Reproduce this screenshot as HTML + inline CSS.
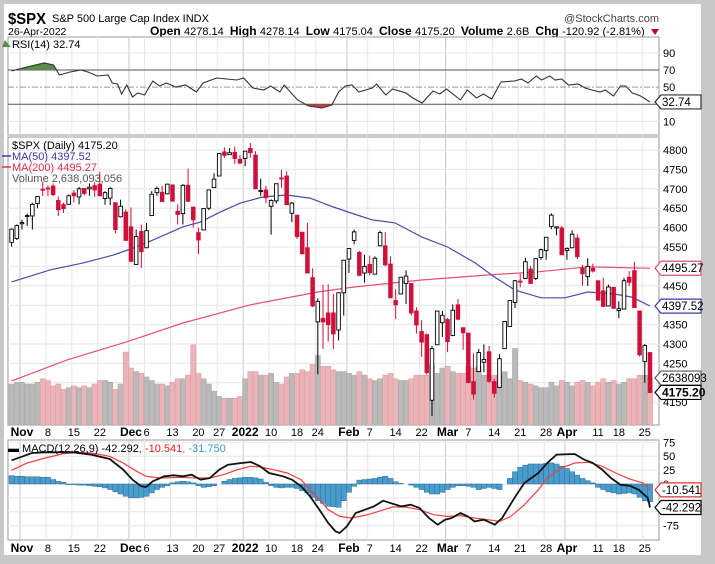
<!DOCTYPE html>
<html><head><meta charset="utf-8">
<style>
html,body{margin:0;padding:0;background:#c8c8c8;}
body{width:715px;height:564px;position:relative;overflow:hidden;font-family:"Liberation Sans",sans-serif;}
#card{position:absolute;left:4px;top:4px;width:697px;height:551px;background:#fff;}
svg{position:absolute;left:0;top:0;}
text{font-family:"Liberation Sans",sans-serif;}
</style></head>
<body>
<div id="card"></div>
<svg id="chart" width="715" height="564" viewBox="0 0 715 564"></svg>
<script>
// ---- data ----
const closes=[4596,4605,
4613,4631,4660,4680,4697,4701,4685,4646,4649,4682,4682,4700,4688,4704,4697,4682,4690,4701,4595,4655,4567,
4513,4577,4538,4592,4686,4701,4667,4712,4668,4634,4709,4668,4620,4568,4649,4697,4725,4791,4786,4793,4778,4766,
4797,4793,4700,4696,4677,4670,4713,4726,4659,4663,4577,4533,4483,4398,4410,4357,4350,4326,4432,4516,
4546,4589,4477,4500,4484,4521,4587,4504,4419,4401,4472,4475,4380,4349,4305,4226,4288,4385,4374,
4306,4387,4364,4329,4201,4171,4278,4260,4204,4173,4262,4358,4412,4463,4461,4512,4456,4520,4543,4575,4632,4602,4530,
4546,4583,4525,4481,4500,4488,4413,4397,4447,4392,4391,4463,4459,4394,4272,4296,4175];
const opens=[4562,4572,
4610,4630,4630,4662,4699,4702,4707,4670,4659,4660,4689,4679,4701,4700,4708,4712,4675,4676,4664,4628,4640,
4602,4505,4590,4548,4631,4690,4691,4687,4710,4642,4636,4709,4653,4587,4594,4650,4703,4733,4795,4788,4794,4776,
4778,4804,4787,4693,4697,4655,4669,4728,4733,4637,4632,4588,4548,4471,4357,4366,4380,4380,4336,4432,
4519,4567,4536,4483,4505,4480,4553,4553,4506,4412,4429,4456,4456,4385,4332,4324,4155,4298,4355,
4363,4322,4401,4342,4328,4203,4229,4253,4280,4203,4188,4288,4345,4407,4462,4469,4493,4469,4523,4541,4603,4599,4599,
4541,4548,4573,4495,4474,4495,4463,4437,4398,4446,4386,4390,4472,4489,4385,4255,4278];
const highs=[4598,4608,
4620,4636,4664,4681,4718,4709,4714,4680,4664,4685,4697,4705,4701,4714,4717,4744,4694,4704,4664,4672,4647,
4652,4595,4608,4612,4694,4706,4708,4713,4710,4660,4712,4752,4653,4600,4650,4697,4740,4791,4807,4805,4809,4787,
4797,4818,4797,4726,4708,4673,4714,4749,4745,4666,4632,4589,4612,4495,4418,4453,4454,4429,4433,4517,
4547,4595,4540,4530,4528,4526,4592,4588,4526,4441,4473,4490,4457,4395,4362,4327,4295,4385,4385,
4367,4402,4416,4342,4328,4276,4287,4299,4295,4210,4274,4358,4413,4465,4481,4522,4501,4521,4546,4575,4637,4603,4604,
4549,4593,4583,4504,4521,4507,4463,4471,4453,4447,4410,4471,4488,4512,4385,4300,4278];
const lows=[4551,4568,
4595,4604,4595,4650,4681,4681,4681,4630,4638,4660,4665,4660,4683,4682,4679,4681,4659,4658,4585,4626,4567,
4511,4504,4496,4548,4631,4682,4666,4688,4667,4608,4608,4666,4600,4532,4594,4645,4703,4733,4780,4788,4765,4765,
4758,4780,4700,4682,4663,4582,4662,4703,4659,4614,4571,4530,4482,4395,4222,4287,4306,4287,4309,4373,
4483,4557,4475,4458,4477,4480,4553,4500,4418,4364,4429,4403,4373,4327,4267,4221,4114,4298,4318,
4279,4320,4361,4285,4199,4157,4229,4227,4200,4162,4188,4287,4345,4393,4446,4468,4455,4465,4517,4517,4596,4580,4530,
4517,4547,4519,4450,4450,4484,4412,4395,4397,4391,4367,4390,4449,4394,4268,4200,4175];
const volumes=[2.3,2.4,
2.4,2.3,2.3,2.4,2.6,2.5,2.2,2.3,2.0,2.1,2.2,2.1,2.2,2.1,2.3,2.5,2.5,2.4,2.0,2.3,4.1,
3.2,3.0,2.9,2.7,2.5,2.3,2.3,2.2,2.4,2.6,2.6,2.8,4.5,2.9,2.6,2.3,1.9,1.6,1.5,1.5,1.5,1.6,
2.6,3.0,3.0,2.8,2.8,2.9,2.4,2.3,2.7,2.9,2.9,3.1,3.0,3.4,3.9,3.3,3.3,3.1,3.0,3.0,
2.9,2.8,3.0,2.8,2.6,2.5,2.6,2.8,2.9,2.6,2.5,2.5,2.6,2.8,2.8,2.8,3.4,2.9,3.2,
3.3,3.0,2.9,2.9,3.3,3.2,3.3,2.8,2.7,2.8,2.8,3.0,2.6,4.3,2.5,2.4,2.3,2.2,2.1,2.1,2.4,2.2,2.5,
2.4,2.2,2.4,2.5,2.4,2.2,2.4,2.6,2.4,2.5,2.3,2.4,2.6,2.6,2.8,2.8,2.64];
const ma50Idx=[0,7.4,13.8,19.6,24.7,28.6,33,36.3,40.2,44,48.5,53,57.5,62,66,69.4,73.9,79,84,89.3,93,97,102,106.6,111,116,119.5,123];
const ma50Val=[4460,4491,4509,4529,4553,4576,4602,4614,4640,4663,4679,4684,4676,4653,4635,4620,4612,4576,4550,4509,4473,4439,4419,4419,4434,4429,4421,4398];
const ma200Idx=[0,10.7,22,33,46,59,66,79,92,101.5,111,123];
const ma200Val=[4205,4259,4305,4354,4401,4434,4447,4465,4478,4486,4499,4495];
const rsiIdx=[0,2.9,6.3,8.1,9.2,11.3,13.4,14.7,16.5,18.6,19.4,20.4,21.2,22.2,23.3,24.3,25.6,27.2,28.5,29.8,31.6,33.5,35.6,36.9,39.5,43.4,44.7,46.5,48.6,49.9,51.7,52.5,55.1,57.2,59.8,61.7,63,64.3,65.6,66.9,69.5,70.3,72.1,73.4,76,77.3,79.1,81.2,82.5,83.8,86.5,87.8,89.6,90.9,92.5,94.3,96.9,98.2,99.5,101.1,102.1,103.7,104.7,106,107.3,109.2,110.5,111.8,113.4,114.4,116,117.3,118.3,119.6,121.2,123];
const rsiVal=[68.8,73.5,78.2,75.8,64.2,67.7,70,67.7,63,64.2,54.8,53.7,42,52.5,38.5,43.2,40.8,57.2,51.3,54.8,50.2,52.5,44.3,54.8,60.7,58.3,60.7,49,46.7,51.3,44.3,52.5,35,28,25.7,29.2,44.3,51.3,52.5,44.3,49,53.7,40.8,47.8,43.2,37.3,31.5,45.5,42,47.8,35,46.7,37.3,42,36.2,56,57.2,59.5,54.8,63,58.3,63,58.3,59.5,52.5,53.7,49,46.7,44.3,46.7,39.7,51.3,51.3,43.2,39.7,32.7];
const macdIdx=[0,2.2,3.9,6.5,11.8,15.3,18.9,21.5,23.3,25,25.9,27.2,29.4,31.2,33,34.7,36.4,38.2,40,41.7,44.3,46.1,47.9,49.6,52.3,54,55.8,57.5,59.3,61,62.4,63.2,64.6,66.3,68.1,69.8,71.6,73.4,75.1,76.9,78.6,80.4,82.1,83.5,84.8,86.5,87.9,89.2,91,93.1,94.5,97.1,98.8,101.5,103.2,105,108.5,110.3,112,113.8,115.5,117.3,119.1,120.8,122.6,123];
const macdVal=[42.6,49.8,55.8,57,57,52.8,45,25.8,7.8,-4.2,-5.4,4.8,13.8,15.6,13.8,16.8,7.8,10.8,25.8,34.8,37.8,39.6,31.8,19.8,13.8,7.8,-4.2,-22.2,-46.2,-70.2,-85.2,-88.2,-76.2,-52.2,-46.2,-40.2,-30,-35.4,-40.2,-37.2,-43.2,-61.2,-73.2,-64.2,-61.2,-52.2,-58.2,-67.2,-64.2,-73.2,-61.2,-22.2,1.8,19.8,37.8,52.8,54,43.8,37.8,25.8,10.8,-1.2,-3,-10.2,-25.2,-42.3];
const sigIdx=[0,3,6.5,10.1,12.7,15.3,18.9,21.5,24.1,25.9,28.5,33,35.6,38.2,40.8,43.5,46.1,47.9,50.5,53.1,55.8,57.5,59.3,61,63.2,65.4,68.1,70.7,73.4,76,78.6,81.3,83.9,86.5,89.2,91.8,94,96.2,98.8,101.5,103.2,105.9,108.5,111.2,113.8,116.4,119.1,121.7,123];
const sigVal=[24.6,37.8,46.8,54.6,57,55.8,49.8,37.8,22.8,13.8,10.8,12,10.8,10.8,16.8,25.8,31.8,30.6,25.8,19.8,7.8,-10.2,-28.2,-46.2,-58.2,-61.2,-56.4,-49.2,-41.4,-41.4,-46.2,-55.2,-58.2,-57,-61.2,-64.2,-67.2,-58.2,-37.2,-10.2,10.8,28.8,37.8,39,31.8,19.8,9,1.8,-10.5];
const histVal=[15,14,14,13,13,13,12,12,8,5,3,-1,-1,-2,-2,-3,-4,-5,-7,-10,-14,-18,-22,-25,-25,-24,-22,-16,-10,-6,-3,2,4,5,4,2,-3,-6,-5,-3,0,5,8,10,11,12,12,11,9,3,-3,-6,-7,-6,-6,-8,-12,-16,-24,-30,-35,-40,-41,-42,-30,-15,-4,7,8,9,10,12,14,10,4,1,0,-2,-6,-10,-15,-18,-18,-15,-10,-6,-3,-3,-4,-6,-10,-8,-6,-8,-10,0,10,22,30,34,36,36,36,37,38,36,32,28,22,16,10,6,2,-6,-10,-14,-16,-18,-17,-16,-18,-24,-30,-32];
const priceTicks=[4800,4750,4700,4650,4600,4550,4500,4450,4400,4350,4300,4250,4200,4150];
const rsiTicks=[90,70,50,30,10];
const macdTicks=[75,50,25,0,-25,-50,-75];
const xTickIdx=[2,7,12,17,23,26,31,36,40,45,50,55,59,65,69,74,79,84,88,93,98,103,107,113,117,122];
const xTickLbl=["Nov","8","15","22","Dec","6","13","20","27","2022","10","18","24","Feb","7","14","22","Mar","7","14","21","28","Apr","11","18","25"];
const monthTick=[true,false,false,false,true,false,false,false,false,true,false,false,false,true,false,false,false,true,false,false,false,false,true,false,false,false];

// ---- geometry ----
const L=8,R=659;
const X=i=>11.6+i*5.19;
const PY=p=>150+(4800-p)*0.388;
const RY=v=>70+(70-v)*0.857;
const MY=v=>484-v*0.556;
const VY=v=>425-v*17.8;
const NS="http://www.w3.org/2000/svg";
const svg=document.getElementById('chart');
function el(tag,attrs,parent){const e=document.createElementNS(NS,tag);for(const k in attrs)e.setAttribute(k,attrs[k]);(parent||svg).appendChild(e);return e;}
function txt(x,y,s,attrs,parent){const t=el('text',Object.assign({x:x,y:y,'font-size':11,fill:'#000'},attrs||{}),parent);t.textContent=s;return t;}

const defs=el('defs',{});
const c1=el('clipPath',{id:'clipMain'},defs);el('rect',{x:L,y:137,width:R-L,height:288},c1);
const c2=el('clipPath',{id:'clipAbove70'},defs);el('rect',{x:L,y:37,width:R-L,height:RY(70)-37},c2);
const c3=el('clipPath',{id:'clipBelow30'},defs);el('rect',{x:L,y:RY(30),width:R-L,height:135-RY(30)},c3);

// header
let t=txt(8,24,'$SPX',{'font-size':16,'font-weight':'bold',textLength:38,lengthAdjust:'spacingAndGlyphs'});


t=txt(52,22,'S&P 500 Large Cap Index  INDX',{'font-size':11});


t=txt(659,22,'@StockCharts.com',{'font-size':11,'text-anchor':'end',fill:'#444'});


t=txt(8,35,'26-Apr-2022',{'font-size':10.5});


const q=el('text',{x:150,y:35,'font-size':11});


[['Open ',1],['4278.14  ',0],['High ',1],['4278.14  ',0],['Low ',1],['4175.04  ',0],['Close ',1],['4175.20  ',0],['Volume ',1],['2.6B  ',0],['Chg ',1],['-120.92 (-2.81%)',0]].forEach(p=>{const s=el('tspan',{'font-weight':p[1]?'bold':'normal','font-size':p[1]?12:11},q);s.textContent=p[0];});
q.setAttribute('style','white-space:pre');
const tri=el('path',{d:'M651 29 L659 29 L655 35 Z',fill:'#c0002b'});



function panel(y0,h,name){const r=el('rect',{x:L,y:y0,width:R-L,height:h,fill:'#fff',stroke:'#9a9a9a','stroke-width':1});}
panel(37,98,'rsi-panel');panel(137,288,'price-panel');panel(440,100,'macd-panel');
function vgrid(y0,y1){xTickIdx.forEach((ix,k)=>{el('line',{x1:X(ix)-2,x2:X(ix)-2,y1:y0,y2:y1,stroke:monthTick[k]?'#c8c8c8':'#e6e6e6','stroke-width':1});});}
vgrid(37,135);vgrid(137,425);vgrid(440,540);
priceTicks.forEach(p=>{el('line',{x1:L,x2:R,y1:PY(p),y2:PY(p),stroke:'#e6e6e6'});});
rsiTicks.forEach(v=>{if(v!==70&&v!==30&&v!==50)el('line',{x1:L,x2:R,y1:RY(v),y2:RY(v),stroke:'#e6e6e6'});});
macdTicks.forEach(v=>{el('line',{x1:L,x2:R,y1:MY(v),y2:MY(v),stroke:'#e6e6e6'});});

// RSI
el('line',{x1:L,x2:R,y1:RY(70),y2:RY(70),stroke:'#555','stroke-width':1});
el('line',{x1:L,x2:R,y1:RY(30),y2:RY(30),stroke:'#555','stroke-width':1});
el('line',{x1:L,x2:R,y1:RY(50),y2:RY(50),stroke:'#999','stroke-width':1,'stroke-dasharray':'6,2,2,2'});
const rsiPts=rsiIdx.map((ix,k)=>X(ix).toFixed(1)+','+RY(rsiVal[k]).toFixed(1));
const a70=el('polygon',{points:X(rsiIdx[0])+','+RY(70)+' '+rsiPts.join(' ')+' '+X(rsiIdx[rsiIdx.length-1])+','+RY(70),fill:'#5a8a4a','clip-path':'url(#clipAbove70)'});


const b30=el('polygon',{points:X(rsiIdx[0])+','+RY(30)+' '+rsiPts.join(' ')+' '+X(rsiIdx[rsiIdx.length-1])+','+RY(30),fill:'#c04040','clip-path':'url(#clipBelow30)'});


const rl=el('polyline',{points:rsiPts.join(' '),fill:'none',stroke:'#333','stroke-width':1.1});


rsiTicks.forEach(v=>{if(v!==30){const tt=txt(663,RY(v)+4,String(v),{'font-size':11});}});
t=txt(12,48,'RSI(14) 32.74',{'font-size':11});


el('path',{d:'M2 47 L5 40 L8 44 L11 47 Z',fill:'#5a8a4a'});

// volume
const mg=el('g',{'clip-path':'url(#clipMain)'});
volumes.forEach((v,i)=>{const down=closes[i]<opens[i];const b=el('rect',{x:X(i)-2.6,y:VY(v),width:5.2,height:425-VY(v),fill:down?'#eab4b8':'#b9b9b9',stroke:down?'#d99':'#a5a5a5','stroke-width':0.5},mg);

});
function line(idx,val,yf,stroke,w,name,parent){const p=el('polyline',{points:idx.map((ix,k)=>X(ix).toFixed(1)+','+yf(val[k]).toFixed(1)).join(' '),fill:'none',stroke:stroke,'stroke-width':w},parent);return p;}
line(ma200Idx,ma200Val,PY,'#e8506a',1.2,'ma200-line',mg);
line(ma50Idx,ma50Val,PY,'#4a4ab0',1.2,'ma50-line',mg);
closes.forEach((c,i)=>{const o=opens[i];const down=c<o;const x=X(i);
const w=el('line',{x1:x,x2:x,y1:PY(highs[i]),y2:PY(lows[i]),stroke:down?'#d0103a':'#000','stroke-width':1},mg);


const top=PY(Math.max(o,c)),bot=PY(Math.min(o,c));
const b=el('rect',{x:x-1.8,y:top,width:3.6,height:Math.max(1,bot-top),fill:down?'#d0103a':'#fff',stroke:down?'#d0103a':'#000','stroke-width':0.9},mg);

});
priceTicks.forEach(p=>{if(p!==4200&&p!==4400&&p!==4500){const tt=txt(663,PY(p)+4,String(p),{'font-size':11});}});
t=txt(12,149,'$SPX (Daily) 4175.20',{'font-size':11});


t=txt(12,160,'MA(50) 4397.52',{'font-size':11,fill:'#3a3aa0'});


el('line',{x1:2,x2:11,y1:156,y2:156,stroke:'#3a3aa0','stroke-width':1.5});
t=txt(12,171,'MA(200) 4495.27',{'font-size':11,fill:'#e0304a'});


el('line',{x1:2,x2:11,y1:167,y2:167,stroke:'#e0304a','stroke-width':1.5});
t=txt(12,182,'Volume 2,638,093,056',{'font-size':11,fill:'#555'});


function tag(y,label,stroke,bold,name){const g=el('g',{});
el('path',{d:`M655 ${y} L661 ${y-7} L701 ${y-7} L701 ${y+7} L661 ${y+7} Z`,fill:'#fff',stroke:stroke,'stroke-width':1.2},g);
txt(662,y+4,label,{'font-size':bold?12:11.5,'font-weight':bold?'bold':'normal'},g);}
tag(PY(4495.27),'4495.27','#e05070',false,'ma200-tag');
tag(PY(4397.52),'4397.52','#3a3aa0',false,'ma50-tag');
tag(VY(2.638),'2638093','#555',false,'volume-tag');
tag(PY(4175.2),'4175.20','#000',true,'close-price-tag');
tag(RY(32.74),'32.74','#333',false,'rsi-tag');

function xlabels(y,name){xTickIdx.forEach((ix,k)=>{const tt=txt(X(ix),y,xTickLbl[k],{'font-size':monthTick[k]?12:11,'font-weight':monthTick[k]?'bold':'normal','text-anchor':'middle'});});}
xlabels(436,'price-x-tick-label');xlabels(552,'macd-x-tick-label');

histVal.forEach((v,i)=>{const y0=MY(0),y1=MY(v);const b=el('rect',{x:X(i)-2.6,y:Math.min(y0,y1),width:5.2,height:Math.abs(y1-y0),fill:'#4a9ccc',stroke:'#2a6f99','stroke-width':0.5});

});
line(sigIdx,sigVal,MY,'#f04040',1.2,'macd-signal-line');
line(macdIdx,macdVal,MY,'#111',1.8,'macd-line');
macdTicks.forEach(v=>{if(v===75||v===50||v===25||v===0||v===-75){const tt=txt(663,MY(v)+4,String(v),{'font-size':11});}});
const ml=el('text',{x:8,y:452,'font-size':11});


[['▬ MACD(12,26,9) -42.292','#000'],[', -10.541','#e02020'],[', -31.750','#3a9ad0']].forEach(p=>{const s=el('tspan',{fill:p[1]},ml);s.textContent=p[0];});
tag(MY(-10.541),'-10.541','#e03030',false,'macd-signal-tag');
tag(MY(-42.292),'-42.292','#000',false,'macd-value-tag');
</script>
</body></html>
